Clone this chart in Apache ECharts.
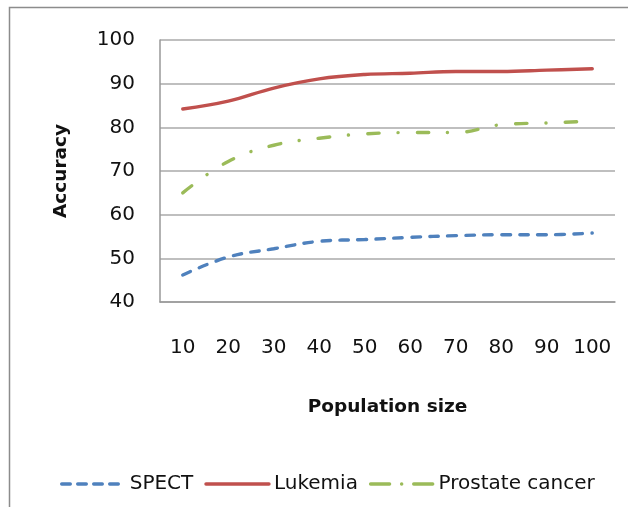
<!DOCTYPE html>
<html><head><meta charset="utf-8">
<script src="https://cdn.jsdelivr.net/npm/echarts@6/dist/echarts.min.js"></script>
<style>html,body{margin:0;padding:0;background:#fff}#c{width:628px;height:507px}</style>
</head><body><div id="c"></div>
<script>
const categories = ['10','20','30','40','50','60','70','80','90','100'];
const spect = [46.2, 50.3, 52.2, 53.9, 54.3, 54.8, 55.2, 55.4, 55.4, 55.8];
const lukemia = [84.2, 86.0, 89.0, 91.1, 92.1, 92.4, 92.8, 92.8, 93.1, 93.4];
const prostate = [65.0, 72.2, 75.9, 77.5, 78.5, 78.8, 78.8, 80.6, 81.0, 81.4];
const seriesNames = ['SPECT', 'Lukemia', 'Prostate cancer'];
const FONT = "'DejaVu Sans', sans-serif";
const chart = echarts.init(document.getElementById('c'));
chart.setOption({
  animation: false,
  textStyle: {fontFamily: FONT},
  graphic: [{type:'rect', shape:{x:9.5,y:7.5,width:700,height:600}, style:{fill:'none', stroke:'#8c8c8c', lineWidth:1.5}, z:-1}],
  grid: {left:160, right:13, top:40, bottom:205},
  legend: {
    top: 469, left: 55, itemWidth: 63, itemHeight: 14, itemGap: 11,
    itemStyle: {opacity: 0},
    lineStyle: {width: 3.4, cap: 'round'},
    textStyle: {fontSize: 20, color:'#111', fontFamily: FONT},
    data: [
      {name: seriesNames[0], lineStyle: {type: [8.6, 7.4], width: 3.4, cap: 'round'}},
      {name: seriesNames[1], lineStyle: {type: 'solid', width: 3.4}},
      {name: seriesNames[2], lineStyle: {type: [19, 12, 0.1, 12], width: 3.4, cap: 'round'}}
    ]
  },
  xAxis: {
    type:'category', data: categories, boundaryGap: true,
    name:'Population size', nameLocation:'middle', nameGap: 96,
    nameTextStyle:{fontSize:18.5, fontWeight:'bold', color:'#111', fontFamily: FONT},
    axisLine:{lineStyle:{color:'#999', width:1.5}},
    axisTick:{show:false},
    axisLabel:{fontSize:20, color:'#111', margin: 36, interval: 0}
  },
  yAxis: {
    type:'value', min:40, max:100, interval:10,
    name:'Accuracy', nameLocation:'middle', nameGap: 89,
    nameTextStyle:{fontSize:18.5, fontWeight:'bold', color:'#111', fontFamily: FONT},
    axisLine:{show:true, lineStyle:{color:'#999', width:1.5}},
    axisTick:{show:false},
    axisLabel:{fontSize:20, color:'#111', margin: 25},
    splitLine:{lineStyle:{color:'#aaa', width:1.5}}
  },
  series: [
    {name:'SPECT', type:'line', data: spect, smooth:0.4, symbol:'none',
     lineStyle:{color:'#4F81BD', width:3.4, type:[8.6,9.4], cap:'round'}, itemStyle:{color:'#4F81BD'}},
    {name:'Lukemia', type:'line', data: lukemia, smooth:0.4, symbol:'none',
     lineStyle:{color:'#C0504D', width:3.4, type:'solid', cap:'round'}, itemStyle:{color:'#C0504D'}},
    {name:'Prostate cancer', type:'line', data: prostate, smooth:0.4, symbol:'none',
     lineStyle:{color:'#9BBB59', width:3.4, type:[11.5,19,0.1,19], cap:'round'}, itemStyle:{color:'#9BBB59'}}
  ]
});
</script></body></html>
